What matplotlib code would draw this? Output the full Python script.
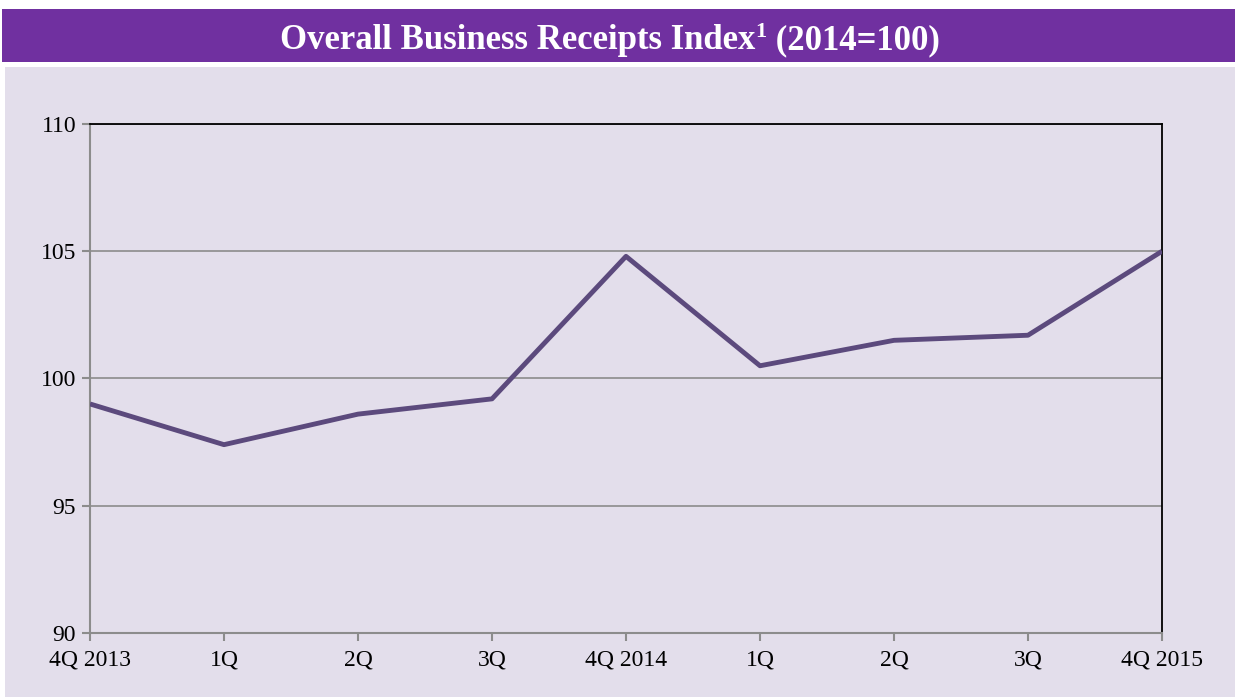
import matplotlib
matplotlib.use("Agg")
import matplotlib.pyplot as plt
from matplotlib.patches import Rectangle

categories = ["4Q 2013", "1Q", "2Q", "3Q", "4Q 2014", "1Q", "2Q", "3Q", "4Q 2015"]
values = [99.0, 97.4, 98.6, 99.2, 104.8, 100.5, 101.5, 101.7, 105.0]
yticks = [90, 95, 100, 105, 110]

W, H = 1235, 697
fig = plt.figure(figsize=(W / 100, H / 100), dpi=100)
fig.patch.set_facecolor("white")
plt.rcParams["font.family"] = ["Liberation Serif", "DejaVu Serif"]

# banner and panel
fig.add_artist(Rectangle((2 / W, 1 - 62 / H), 1 - 2 / W, 53 / H, transform=fig.transFigure,
                         facecolor="#7030A0", edgecolor="none", zorder=0))
fig.add_artist(Rectangle((5 / W, 0), 1 - 5 / W, 1 - 67 / H, transform=fig.transFigure,
                         facecolor="#E3DEEB", edgecolor="none", zorder=0))

# title pieces
renderer = fig.canvas.get_renderer()
parts = [("Overall Business Receipts Index", 25, 0), ("1", 16, 12), (" (2014=100)", 25, 0)]
ybase = 1 - 49 / H
texts = []
widths = []
for s, fs, dy in parts:
    t = fig.text(0, ybase + dy / H, s, color="white", fontsize=fs, fontweight="bold",
                 ha="left", va="baseline")
    texts.append(t)
    widths.append(t.get_window_extent(renderer).width)
total = sum(widths)
x = 610 - total / 2
for t, w in zip(texts, widths):
    t.set_x(x / W)
    x += w

ax = fig.add_axes([90 / W, 1 - 633 / H, (1162 - 90) / W, (633 - 124) / H])
ax.set_facecolor("none")
xs = list(range(len(categories)))
ax.plot(xs, values, color="#5C4A7D", linewidth=3.5, solid_capstyle="butt", zorder=3)
ax.set_xlim(0, len(categories) - 1)
ax.set_ylim(90, 110)
ax.set_yticks(yticks)
ax.set_yticklabels([str(v) for v in yticks])
ax.set_xticks(xs)
ax.set_xticklabels(categories)
ax.yaxis.grid(True, color="#8C8C8C", linewidth=1.2)
ax.set_axisbelow(True)
for side in ["left", "bottom"]:
    ax.spines[side].set_color("#8C8C8C")
    ax.spines[side].set_linewidth(1.5)
for side in ["top", "right"]:
    ax.spines[side].set_color("black")
    ax.spines[side].set_linewidth(1.3)
ax.tick_params(axis="both", colors="#8C8C8C", labelcolor="black", labelsize=17, length=6, width=1.5)
ax.tick_params(axis="y", pad=4)
ax.tick_params(axis="x", pad=6)

fig.savefig("out.png", dpi=100, facecolor="white")
